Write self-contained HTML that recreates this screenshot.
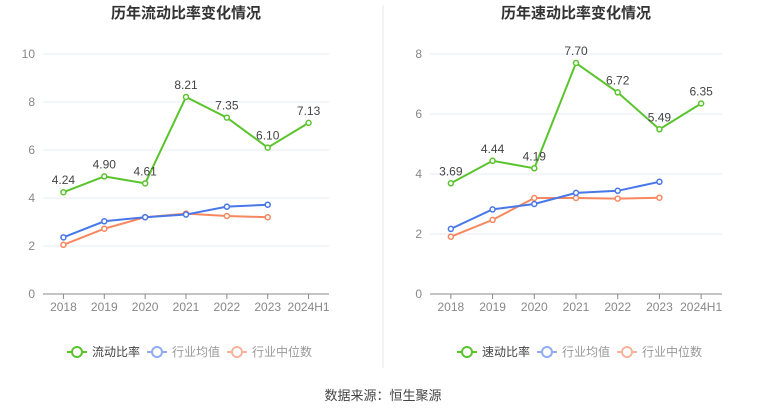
<!DOCTYPE html>
<html><head><meta charset="utf-8"><style>
body{margin:0;background:#fff;width:765px;height:413px;overflow:hidden;font-family:"Liberation Sans","Noto Sans CJK SC",sans-serif}
svg{display:block}
</style></head><body>
<svg id="s" width="765" height="413">
<line x1="383" y1="5" x2="383" y2="368" stroke="#e8e8e8"/>
<text x="383" y="400" text-anchor="middle" font-size="13" fill="#444">数据来源：恒生聚源</text>
</svg>
<script>
const categories=["2018","2019","2020","2021","2022","2023","2024H1"];
const currentRatio=[4.24,4.90,4.61,8.21,7.35,6.10,7.13];
const currentAvg=[2.36,3.03,3.20,3.31,3.64,3.72];
const currentMedian=[2.05,2.72,3.20,3.35,3.25,3.20];
const currentTicks=[0,2,4,6,8,10];
const quickRatio=[3.69,4.44,4.19,7.70,6.72,5.49,6.35];
const quickAvg=[2.17,2.82,3.00,3.37,3.44,3.74];
const quickMedian=[1.91,2.47,3.20,3.20,3.18,3.21];
const quickTicks=[0,2,4,6,8];
const NS="http://www.w3.org/2000/svg";
const svg=document.getElementById('s');
function mk(t,a,p){const e=document.createElementNS(NS,t);for(const k in a)e.setAttribute(k,a[k]);(p||svg).appendChild(e);return e;}
function chart(o){
  const g=mk('g',{});
  
  
  const x0=o.x0,x1=o.x1,yb=294,yt=54,max=o.ticks[o.ticks.length-1];
  const bw=(x1-x0)/categories.length;
  const X=i=>x0+bw*(i+0.5);
  const Y=v=>yb-(v/max)*(yb-yt);
  const tt=mk('text',{x:(x0+x1)/2,y:18,'text-anchor':'middle','font-size':15,'font-weight':'bold',fill:'#333'},g);
  tt.textContent=o.title;
  
  
  o.ticks.forEach(v=>{
    if(v>0){const l=mk('line',{x1:x0,x2:x1,y1:Y(v),y2:Y(v),stroke:'#e6ebf3'},g);
    
    }
    const t=mk('text',{x:x0-8,y:Y(v)+4,'text-anchor':'end','font-size':12,fill:'#888'},g);
    t.textContent=v;
    
    
  });
  const ax=mk('line',{x1:x0,x2:x1,y1:yb,y2:yb,stroke:'#888'},g);
  
  
  categories.forEach((c,i)=>{
    mk('line',{x1:X(i),x2:X(i),y1:yb,y2:yb+5,stroke:'#888'},g);
    const t=mk('text',{x:X(i),y:yb+17,'text-anchor':'middle','font-size':12,fill:'#888'},g);
    t.textContent=c;
    
    
  });
  const series=[[o.main,'#5ac42d',true,'main-series'],[o.avg,'#4777e8',false,'industry-avg-series'],[o.med,'#f7875f',false,'industry-median-series']];
  series.slice().reverse().forEach(([d,c,lab,nm])=>{
    const p=mk('polyline',{points:d.map((v,i)=>X(i)+','+Y(v)).join(' '),fill:'none',stroke:c,'stroke-width':2},g);
    
    
    d.forEach((v,i)=>{
      const ci=mk('circle',{cx:X(i),cy:Y(v),r:2.5,fill:'#fff',stroke:c,'stroke-width':1.5},g);
      
      
      if(lab){const t=mk('text',{x:X(i),y:Y(v)-8,'text-anchor':'middle','font-size':12,fill:'#444'},g);
        t.textContent=v.toFixed(2);
        
        }
    });
  });
  const leg=[[o.mainLabel,'#5ac42d','#444'],['行业均值','#8fadf0','#999'],['行业中位数','#f9b39b','#999']];
  let lx=(x0+x1)/2-119;
  const lw=[80,80,90];
  leg.forEach(([t,c,tc],i)=>{
    const lg=mk('g',{},g);
    
    
    mk('line',{x1:lx,x2:lx+20,y1:352,y2:352,stroke:c,'stroke-width':2},lg);
    mk('circle',{cx:lx+10,cy:352,r:5,fill:'#fff',stroke:c,'stroke-width':2},lg);
    const tx=mk('text',{x:lx+25,y:356,'font-size':12,fill:tc},lg);tx.textContent=t;
    lx+=lw[i];
  });
}
chart({name:'current-ratio-chart',title:'历年流动比率变化情况',x0:43,x1:329,ticks:currentTicks,main:currentRatio,avg:currentAvg,med:currentMedian,mainLabel:'流动比率'});
chart({name:'quick-ratio-chart',title:'历年速动比率变化情况',x0:430,x1:722,ticks:quickTicks,main:quickRatio,avg:quickAvg,med:quickMedian,mainLabel:'速动比率'});
</script>
</body></html>
